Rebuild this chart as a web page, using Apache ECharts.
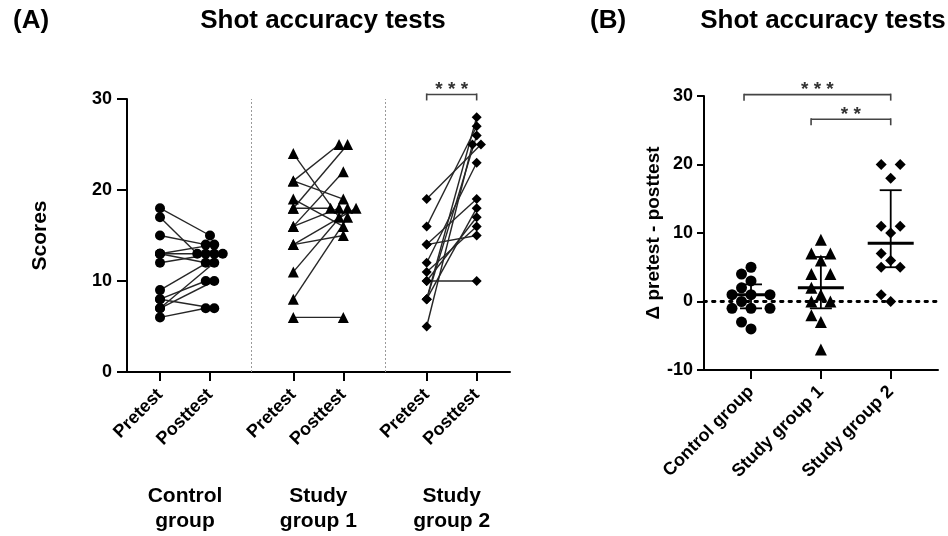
<!DOCTYPE html>
<html>
<head>
<meta charset="utf-8">
<script src="https://cdn.jsdelivr.net/npm/echarts@6/dist/echarts.min.js"></script>
<style>
  html, body { margin: 0; padding: 0; background: #fff; }
  #main { width: 948px; height: 536px; }
</style>
</head>
<body>
<div id="main"></div>
<script>
// panel A: paired scores, one entry per subject
const groupNames = ['Control\ngroup', 'Study\ngroup 1', 'Study\ngroup 2'];
const testNames = ['Pretest', 'Posttest'];
const controlPre  = [18, 17, 15, 13, 13, 12, 6, 8, 13, 9, 7, 8, 7];
const controlPost = [15, 13, 14, 14, 13, 13, 7, 7, 12, 13, 12, 10, 10];
const study1Pre   = [24, 21, 21, 19, 18, 18, 16, 16, 14, 11, 8, 6, 14];
const study1Post  = [17, 25, 19, 16, 18, 25, 22, 18, 15, 18, 17, 6, 18];
const study2Pre   = [10, 5, 8, 19, 8, 16, 12, 14, 14, 11, 10, 8];
const study2Post  = [10, 25, 28, 25, 26, 27, 23, 15, 19, 16, 17, 18];

// panel B: change per subject
const deltaGroups = ['Control group', 'Study group 1', 'Study group 2'];
const deltaControl = [5, 4, 3, 2, 1, 1, 1, 0, -1, -1, -1, -3, -4];
const deltaStudy1  = [9, 7, 7, 6, 4, 4, 2, 1, 0, 0, -2, -3, -7];
const deltaStudy2  = [20, 20, 18, 11, 11, 10, 7, 6, 5, 5, 1, 0];

const yTicksA = [0, 10, 20, 30];
const yTicksB = [-10, 0, 10, 20, 30];

// significance brackets (x in axis units, level in score units)
const bracketsA = [{ from: 5.3333, to: 6.3333, level: 30.5, text: '* * *' }];
const bracketsB = [
  { from: -0.1, to: 2, level: 30.2, text: '* * *' },
  { from: 0.86, to: 2, level: 26.6, text: '* *' }
];

const FONT = '"Liberation Sans", Arial, sans-serif';
const symbols = ['circle', 'triangle', 'diamond'];

// layout
const gridA = { left: 127, top: 99, width: 383, height: 273 };
const gridB = { left: 704, top: 96, width: 234, height: 274 };
const xRangeA = [-0.66, 7.0];
const xRangeB = [-0.673, 2.677];
const pxA = gridA.width / (xRangeA[1] - xRangeA[0]);
const pxBx = gridB.width / (xRangeB[1] - xRangeB[0]);
const pxBy = gridB.height / 40;

const groupsA = [
  [controlPre, controlPost],
  [study1Pre, study1Post],
  [study2Pre, study2Post]
];
const preX = [0, 2.6667, 5.3333];
const tickXA = [0, 1, 2.6667, 3.6667, 5.3333, 6.3333];

// spread equal posttest values sideways
function spreadDuplicates(vals, center, stepUnits) {
  const seen = {};
  vals.forEach(v => { seen[v] = (seen[v] || 0) + 1; });
  const used = {};
  return vals.map(v => {
    const n = seen[v];
    const k = used[v] = (used[v] || 0);
    used[v]++;
    return center + (k - (n - 1) / 2) * stepUnits;
  });
}

// simple row beeswarm for panel B
function swarm(vals, center) {
  const half = 9.5 / pxBx;
  const counts = {};
  vals.forEach(v => { counts[v] = (counts[v] || 0) + 1; });
  const levels = Object.keys(counts).map(Number).sort((a, b) => a - b);
  const pos = {};
  let prevLevel = null, prevParity = 0;
  levels.forEach(v => {
    const n = counts[v];
    let parity;
    if (prevLevel !== null && (v - prevLevel) * pxBy < 11) parity = 1 - prevParity;
    else parity = n % 2 === 1 ? 0 : 1;
    const slots = [];
    if (parity === 0) { slots.push(0); for (let k = 1; slots.length < n; k++) { slots.push(-2 * k); if (slots.length < n) slots.push(2 * k); } }
    else { for (let k = 0; slots.length < n; k++) { slots.push(-(2 * k + 1)); if (slots.length < n) slots.push(2 * k + 1); } }
    pos[v] = slots.map(s => center + s * half);
    prevLevel = v; prevParity = parity;
  });
  const used = {};
  return vals.map(v => { const k = used[v] = (used[v] || 0); used[v]++; return [pos[v][k], v]; });
}

function quantile(sorted, p) {
  const n = sorted.length;
  let h = (n + 1) * p;
  if (h < 1) h = 1;
  if (h > n) h = n;
  const lo = Math.floor(h);
  const frac = h - lo;
  return lo >= n ? sorted[n - 1] : sorted[lo - 1] + frac * (sorted[lo] - sorted[lo - 1]);
}

const series = [];

// panel A lines and points
groupsA.forEach((g, gi) => {
  const [pre, post] = g;
  const postX = spreadDuplicates(post, preX[gi] + 1, 8.5 / pxA);
  pre.forEach((v, i) => {
    series.push({
      type: 'line', xAxisIndex: 0, yAxisIndex: 0,
      data: [[preX[gi], v], [postX[i], post[i]]],
      symbol: 'none', silent: true, animation: false,
      lineStyle: { color: '#262626', width: 1.4 }, z: 2
    });
  });
  series.push({
    type: 'scatter', xAxisIndex: 0, yAxisIndex: 0, animation: false,
    symbol: symbols[gi], symbolSize: gi === 1 ? 11 : 10,
    itemStyle: { color: '#000', opacity: 1 }, z: 3,
    data: pre.map(v => [preX[gi], v]).concat(post.map((v, i) => [postX[i], v]))
  });
});

// group separators in panel A
series.push({
  type: 'scatter', xAxisIndex: 0, yAxisIndex: 0, data: [], animation: false,
  markLine: {
    silent: true, symbol: 'none', label: { show: false }, animation: false,
    lineStyle: { color: '#9a9a9a', type: [2, 2], width: 1 },
    data: [{ xAxis: 1.8333 }, { xAxis: 4.5 }]
  }
});

// panel B points
const deltas = [deltaControl, deltaStudy1, deltaStudy2];
deltas.forEach((d, gi) => {
  series.push({
    type: 'scatter', xAxisIndex: 1, yAxisIndex: 1, animation: false,
    symbol: symbols[gi], symbolSize: gi === 1 ? 12 : 11,
    itemStyle: { color: '#000', opacity: 1 }, z: 3,
    data: swarm(d, gi)
  });
});

// zero line
series.push({
  type: 'scatter', xAxisIndex: 1, yAxisIndex: 1, data: [], animation: false,
  markLine: {
    silent: true, symbol: 'none', label: { show: false }, animation: false,
    lineStyle: { color: '#000', type: [2.5, 6], width: 2.8, cap: 'round' },
    data: [{ yAxis: 0 }]
  }
});

// median with interquartile range
const stats = deltas.map((d, gi) => {
  const s = d.slice().sort((a, b) => a - b);
  return [gi, quantile(s, 0.25), quantile(s, 0.5), quantile(s, 0.75)];
});
series.push({
  type: 'custom', xAxisIndex: 1, yAxisIndex: 1, animation: false, z: 5,
  data: stats,
  renderItem: function (params, api) {
    const x = api.value(0);
    const lo = api.coord([x, api.value(1)]);
    const md = api.coord([x, api.value(2)]);
    const hi = api.coord([x, api.value(3)]);
    const st = { stroke: '#000', lineWidth: 1.8 };
    return {
      type: 'group', children: [
        { type: 'line', shape: { x1: md[0] - 23, y1: md[1], x2: md[0] + 23, y2: md[1] }, style: { stroke: '#000', lineWidth: 3 } },
        { type: 'line', shape: { x1: lo[0], y1: lo[1], x2: hi[0], y2: hi[1] }, style: st },
        { type: 'line', shape: { x1: lo[0] - 11, y1: lo[1], x2: lo[0] + 11, y2: lo[1] }, style: st },
        { type: 'line', shape: { x1: hi[0] - 11, y1: hi[1], x2: hi[0] + 11, y2: hi[1] }, style: st }
      ]
    };
  }
});

function bracketSeries(list, axis) {
  return {
    type: 'custom', xAxisIndex: axis, yAxisIndex: axis, animation: false, clip: false, silent: true,
    data: list.map(b => [b.from, b.to, b.level]),
    renderItem: function (params, api) {
      const a = api.coord([api.value(0), api.value(2)]);
      const b = api.coord([api.value(1), api.value(2)]);
      const st = { stroke: '#444', lineWidth: 1.6 };
      return {
        type: 'group', children: [
          { type: 'line', shape: { x1: a[0], y1: a[1], x2: b[0], y2: b[1] }, style: st },
          { type: 'line', shape: { x1: a[0], y1: a[1] - 1, x2: a[0], y2: a[1] + 6 }, style: st },
          { type: 'line', shape: { x1: b[0], y1: b[1] - 1, x2: b[0], y2: b[1] + 6 }, style: st },
          { type: 'text', x: (a[0] + b[0]) / 2, y: a[1] + 5,
            style: { text: list[params.dataIndex].text, fill: '#333', font: 'bold 19px ' + FONT, align: 'center', verticalAlign: 'bottom' } }
        ]
      };
    }
  };
}
series.push(bracketSeries(bracketsA, 0));
series.push(bracketSeries(bracketsB, 1));

const axisLineStyle = { color: '#000', width: 2 };
const tickLabel = { color: '#000', fontFamily: FONT, fontWeight: 'bold', fontSize: 18 };
const titleStyle = { fontFamily: FONT, fontWeight: 'bold', fontSize: 26, color: '#000' };

const option = {
  animation: false,
  backgroundColor: '#fff',
  title: [
    { text: '(A)', left: 8, top: 3, textStyle: titleStyle },
    { text: 'Shot accuracy tests', left: 318, top: 3, textAlign: 'center', textStyle: titleStyle },
    { text: '(B)', left: 585, top: 3, textStyle: titleStyle },
    { text: 'Shot accuracy tests', left: 818, top: 3, textAlign: 'center', textStyle: titleStyle }
  ],
  grid: [
    Object.assign({ containLabel: false }, gridA),
    Object.assign({ containLabel: false }, gridB)
  ],
  xAxis: [
    {
      type: 'value', gridIndex: 0, min: xRangeA[0], max: xRangeA[1],
      splitLine: { show: false },
      axisLine: { onZero: false, lineStyle: axisLineStyle },
      axisTick: { customValues: tickXA, length: 9, lineStyle: axisLineStyle },
      axisLabel: Object.assign({}, tickLabel, {
        customValues: tickXA, rotate: 45, margin: 20,
        formatter: v => testNames[tickXA.findIndex(t => Math.abs(t - v) < 0.01) % 2]
      })
    },
    {
      type: 'value', gridIndex: 1, min: xRangeB[0], max: xRangeB[1],
      splitLine: { show: false },
      axisLine: { onZero: false, lineStyle: axisLineStyle },
      axisTick: { customValues: [0, 1, 2], length: 9, lineStyle: axisLineStyle },
      axisLabel: Object.assign({}, tickLabel, {
        customValues: [0, 1, 2], rotate: 45, margin: 19,
        formatter: v => deltaGroups[Math.round(v)]
      })
    },
    {
      type: 'value', gridIndex: 0, min: xRangeA[0], max: xRangeA[1], position: 'bottom',
      splitLine: { show: false }, axisLine: { show: false, onZero: false }, axisTick: { show: false },
      axisLabel: {
        customValues: [0.5, 3.1667, 5.8333], margin: 112, color: '#000',
        fontFamily: FONT, fontWeight: 'bold', fontSize: 21, lineHeight: 25,
        formatter: v => groupNames[preX.findIndex(p => Math.abs(p + 0.5 - v) < 0.01)]
      }
    }
  ],
  yAxis: [
    {
      type: 'value', gridIndex: 0, min: 0, max: 30, interval: 10,
      name: 'Scores', nameLocation: 'middle', nameGap: 76, nameRotate: 90,
      nameTextStyle: { fontFamily: FONT, fontWeight: 'bold', fontSize: 21, color: '#000' },
      splitLine: { show: false },
      axisLine: { show: true, onZero: false, lineStyle: axisLineStyle },
      axisTick: { show: true, length: 10, lineStyle: axisLineStyle },
      axisLabel: Object.assign({}, tickLabel, { margin: 15, formatter: v => yTicksA.includes(v) ? String(v) : '' })
    },
    {
      type: 'value', gridIndex: 1, min: -10, max: 30, interval: 10,
      name: 'Δ pretest - posttest', nameLocation: 'middle', nameGap: 33, nameRotate: 90,
      nameTextStyle: { fontFamily: FONT, fontWeight: 'bold', fontSize: 19, color: '#000' },
      splitLine: { show: false },
      axisLine: { show: true, onZero: false, lineStyle: axisLineStyle },
      axisTick: { show: true, length: 7, lineStyle: axisLineStyle },
      axisLabel: Object.assign({}, tickLabel, { margin: 11, formatter: v => yTicksB.includes(v) ? String(v) : '' })
    }
  ],
  series: series
};

const chart = echarts.init(document.getElementById('main'), null, { renderer: 'canvas' });
chart.setOption(option);
</script>
</body>
</html>
